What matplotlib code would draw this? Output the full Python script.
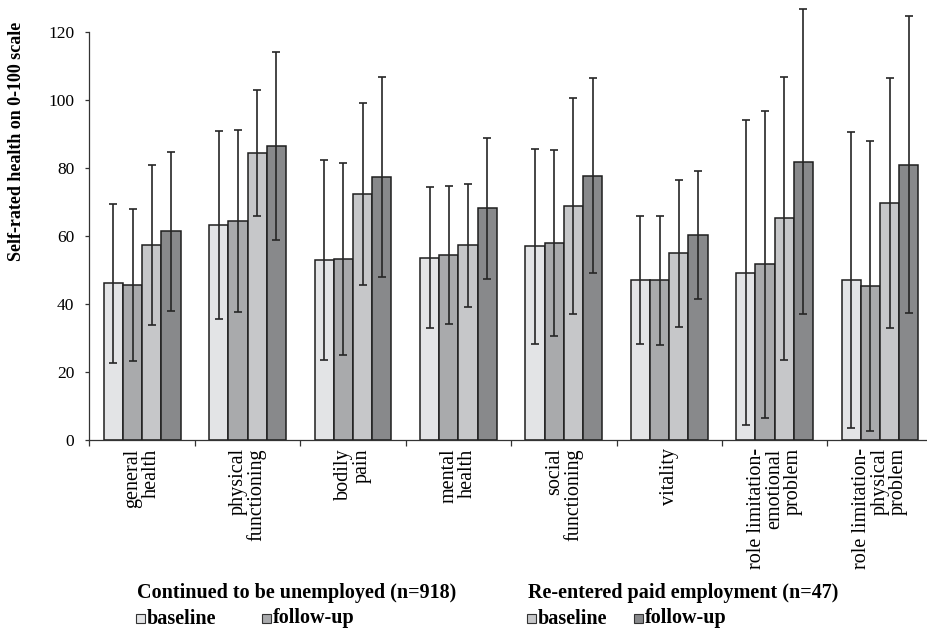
import numpy as np
import matplotlib
matplotlib.use("Agg")
import matplotlib.pyplot as plt
from matplotlib.patches import Rectangle

plt.rcParams['font.family'] = ['Liberation Serif', 'DejaVu Serif']

categories = ["general\nhealth", "physical\nfunctioning", "bodily\npain", "mental\nhealth",
              "social\nfunctioning", "vitality", "role limitation-\nemotional\nproblem",
              "role limitation-\nphysical\nproblem"]

# group means (0-100 scale)
unemp_base = [46.0, 63.1, 52.9, 53.5, 56.9, 47.0, 49.2, 47.0]
unemp_follow = [45.5, 64.4, 53.1, 54.3, 57.8, 46.9, 51.7, 45.3]
reemp_base = [57.3, 84.3, 72.3, 57.2, 68.8, 54.8, 65.1, 69.7]
reemp_follow = [61.3, 86.3, 77.3, 68.1, 77.7, 60.2, 81.8, 80.9]

# standard deviations
unemp_base_sd = [23.3, 27.6, 29.4, 20.7, 28.6, 18.9, 44.8, 43.5]
unemp_follow_sd = [22.4, 26.7, 28.2, 20.3, 27.3, 18.9, 45.1, 42.6]
reemp_base_sd = [23.6, 18.4, 26.8, 18.1, 31.8, 21.7, 41.5, 36.7]
reemp_follow_sd = [23.3, 27.6, 29.4, 20.7, 28.6, 18.9, 44.8, 43.7]

group_titles = ["Continued to be unemployed (n=918)", "Re-entered paid employment (n=47)"]
series_names = ["baseline", "follow-up"]

colors = ['#e3e4e6', '#a9aaac', '#c6c7c9', '#88898b']
means = [unemp_base, unemp_follow, reemp_base, reemp_follow]
sds = [unemp_base_sd, unemp_follow_sd, reemp_base_sd, reemp_follow_sd]

W, H = 928, 629


def fx(x):
    return x / W


def fy(y):
    return 1 - y / H


fig = plt.figure(figsize=(W / 100, H / 100), dpi=100)
ax = fig.add_axes([fx(89.5), fy(440), (932.7 - 89.5) / W, (440 - 31.6) / H])

n = len(categories)
centers = np.arange(n) + 0.5
bw = 0.1825
for k in range(4):
    xs = centers + (k - 1.5) * bw
    ax.bar(xs, means[k], width=bw, color=colors[k], edgecolor='#1e1e1e',
           linewidth=1.1, zorder=2)
    ax.errorbar(xs, means[k], yerr=sds[k], fmt='none', ecolor='#262626',
                elinewidth=1.2, capsize=3.2, capthick=1.2, zorder=3, clip_on=False)

ax.set_xlim(0, n)
ax.set_ylim(0, 120)
ax.set_yticks(np.arange(0, 121, 20))
ax.tick_params(axis='y', direction='out', length=3, width=0.9, pad=8, labelsize=12.5,
               color='#333333')

ax.set_xticks(centers)
ax.set_xticklabels(categories, rotation=90, va='top', ha='center',
                   multialignment='right', linespacing=0.95, fontsize=14.5)
ax.tick_params(axis='x', which='major', length=0, pad=6)
ax.set_xticks(np.arange(0, n + 1), minor=True)
ax.tick_params(axis='x', which='minor', direction='out', length=4, width=0.9,
               color='#333333')

for side in ['top', 'right']:
    ax.spines[side].set_visible(False)
for side in ['left', 'bottom']:
    ax.spines[side].set_linewidth(0.9)
    ax.spines[side].set_color('#333333')

fig.text(fx(17), fy(141.5), "Self-rated health on 0-100 scale", rotation=90,
         ha='center', va='center', fontsize=13, fontweight='bold')

# legend built by hand: two titled groups, two swatches each
legend_x = [(137, 136, 262), (528, 527, 634)]
for g in range(2):
    tx, sx1, sx2 = legend_x[g]
    fig.text(fx(tx), fy(598), group_titles[g], ha='left', va='baseline',
             fontsize=14.5, fontweight='bold')
    for j, sx in enumerate([sx1, sx2]):
        fig.patches.append(Rectangle((fx(sx), fy(623)), 9 / W, 9 / H,
                                     transform=fig.transFigure, facecolor=colors[2 * g + j],
                                     edgecolor='#333333', linewidth=0.8))
        fig.text(fx(sx + 11), fy(623.5), series_names[j], ha='left', va='baseline',
                 fontsize=14.5, fontweight='bold')

fig.savefig('out.png', dpi=100)
